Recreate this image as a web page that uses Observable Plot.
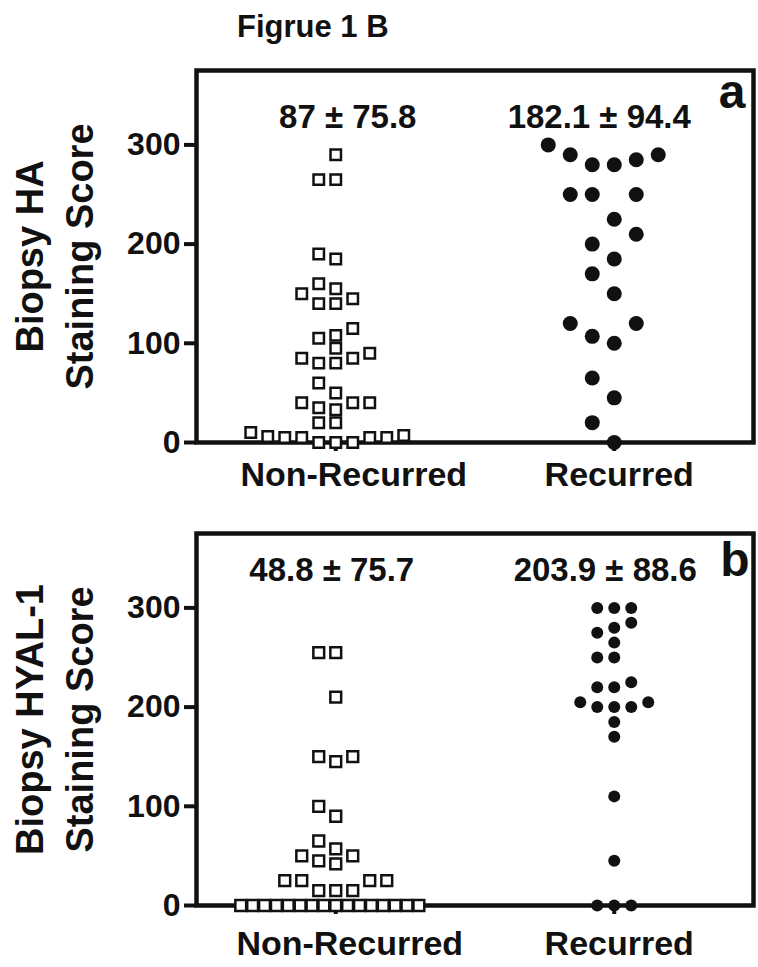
<!DOCTYPE html>
<html><head><meta charset="utf-8">
<script src="https://cdn.jsdelivr.net/npm/d3@7"></script>
<script src="https://cdn.jsdelivr.net/npm/@observablehq/plot@0.6"></script>
<style>
body{margin:0;background:#fff;font-family:"Liberation Sans",Arial,sans-serif;}
#wrap{position:relative;width:758px;height:967px;overflow:hidden;background:#fff;}
#title{position:absolute;left:237px;top:11px;font-weight:bold;font-size:31px;line-height:1;color:#111;white-space:nowrap;z-index:2;}
#charts{position:absolute;left:0;top:34px;z-index:1;}
</style></head><body>
<div id="wrap"><div id="title">Figrue 1 B</div><div id="charts"></div></div>
<script>
const categories = ["Non-Recurred", "Recurred"];
const yTicks = [0, 100, 200, 300];

// Panel a: Biopsy HA staining score
const haNonRecurred = [290, 265, 265, 185, 190, 160, 155, 145, 140, 140, 150, 108, 105, 115,
  90, 85, 80, 80, 85, 95, 60, 50, 35, 40, 40, 40, 33, 20, 20, 10, 5, 5, 5, 0, 0, 0, 5, 6, 7];
const haRecurred = [300, 290, 280, 280, 285, 290, 250, 250, 250, 225, 210, 200, 185, 170, 150,
  120, 100, 107, 120, 65, 45, 20, 0];
const haSummary = ["87 \u00b1 75.8", "182.1 \u00b1 94.4"];

// Panel b: Biopsy HYAL-1 staining score
const hyalNonRecurred = [255, 255, 210, 150, 145, 150, 90, 100, 65, 57, 50, 42, 45, 50,
  25, 25, 25, 25, 15, 15, 15, 0, 0, 0, 0, 0, 0, 0, 0, 0, 0, 0, 0, 0, 0, 0, 0];
const hyalRecurred = [300, 300, 300, 285, 280, 275, 265, 250, 250, 225, 220, 220, 205, 200,
  200, 200, 205, 185, 170, 110, 45, 0, 0, 0];
const hyalSummary = ["48.8 \u00b1 75.7", "203.9 \u00b1 88.6"];

const panelLetters = ["a", "b"];
const yTitlesA = ["Biopsy HA", "Staining Score"];
const yTitlesB = ["Biopsy HYAL-1", "Staining Score"];

const W = 758, H = 463;
const M = {top: 36, right: 5, bottom: 55, left: 196};
const innerW = W - M.left - M.right;
const xPerPx = 2 / innerW;
const yMax = 375;

// Prism-like column scatter: greedy placement on a column grid
function swarm(values, catIndex, spacingPx, thresh, maxHalfPx) {
  const idx = values.map((v, i) => i).sort((a, b) => values[a] - values[b] || a - b);
  const placed = [], col = [];
  for (const i of idx) {
    const v = values[i];
    for (let k = 0; ; k++) {
      const c = k === 0 ? 0 : (k % 2 ? -(k + 1) / 2 : k / 2);
      if (!placed.some(p => p.c === c && Math.abs(p.v - v) < thresh)) {
        placed.push({v, c}); col[i] = c; break;
      }
    }
  }
  const off = col.map(c => c * spacingPx);
  const groups = d3.group(values.map((v, i) => i), i => values[i]);
  for (const [, ids] of groups) {
    const m = d3.max(ids, i => Math.abs(off[i]));
    if (m > maxHalfPx) ids.forEach(i => off[i] *= maxHalfPx / m);
  }
  return values.map((v, i) => ({cat: catIndex, value: v, x: catIndex + off[i] * xPerPx}));
}

function panel(cfg) {
  const sq = swarm(cfg.nonRec, 0, 17, 13, 95);
  const ci = swarm(cfg.rec, 1, cfg.cSpacing, cfg.cThresh, 95);
  const summaryMarks = [0, 1].map(i => Plot.text([i], {x: d => d, text: d => cfg.summary[d],
    frameAnchor: "top", lineAnchor: "top", dy: cfg.sumDy, dx: cfg.sumDx[i], fontSize: 33}));
  const catMarks = [0, 1].map(i => Plot.text([i], {x: d => d, text: d => categories[d],
    frameAnchor: "bottom", lineAnchor: "top", dy: cfg.catDy, dx: cfg.catDx[i], fontSize: 34}));
  return Plot.plot({
    width: W, height: H,
    marginTop: M.top, marginRight: M.right, marginBottom: M.bottom, marginLeft: M.left,
    x: {domain: [-0.5, 1.5], axis: null},
    y: {domain: [0, yMax], axis: null},
    style: {fontFamily: "'Liberation Sans', Arial, sans-serif", fontWeight: "bold", color: "#111", background: "white", overflow: "visible"},
    marks: [
      Plot.axisY({ticks: yTicks, tickSize: 12, tickPadding: 4, fontSize: 32, strokeWidth: 4, label: null}),
      Plot.axisX({ticks: [0, 1], tickFormat: () => "", tickSize: 9, strokeWidth: 4, label: null}),
      Plot.frame({strokeWidth: 4.5}),
      Plot.dot(sq, {x: "x", y: "value", symbol: "square", r: cfg.sqR, fill: "white", stroke: "#111", strokeWidth: 2.5}),
      Plot.dot(ci, {x: "x", y: "value", r: cfg.cR, fill: "#111", stroke: "none"}),
      ...summaryMarks,
      ...catMarks,
      Plot.text([cfg.letter], {text: d => d, frameAnchor: "top-right", textAnchor: "end", lineAnchor: "bottom", dy: cfg.letterDy, dx: cfg.letterDx, fontSize: 48}),
      Plot.text([cfg.titles[0]], {text: d => d, frameAnchor: "left", rotate: -90, dx: -166, fontSize: 38, lineAnchor: "middle", textAnchor: "middle"}),
      Plot.text([cfg.titles[1]], {text: d => d, frameAnchor: "left", rotate: -90, dx: -116, fontSize: 38, lineAnchor: "middle", textAnchor: "middle"})
    ]
  });
}

const charts = document.getElementById("charts");
charts.append(panel({nonRec: haNonRecurred, rec: haRecurred, summary: haSummary, letter: panelLetters[0],
  titles: yTitlesA, sqR: 5.9, cR: 7.5, cSpacing: 22, cThresh: 27, catDy: 19, catDx: [18, 5],
  sumDy: 34, sumDx: [12, -15], letterDy: 37, letterDx: -8}));
charts.append(panel({nonRec: hyalNonRecurred, rec: hyalRecurred, summary: hyalSummary, letter: panelLetters[1],
  titles: yTitlesB, sqR: 6.1, cR: 6, cSpacing: 17, cThresh: 13, catDy: 25, catDx: [14, 5],
  sumDy: 24, sumDx: [-4, -9], letterDy: 42, letterDx: -4}));
</script>
</body></html>
